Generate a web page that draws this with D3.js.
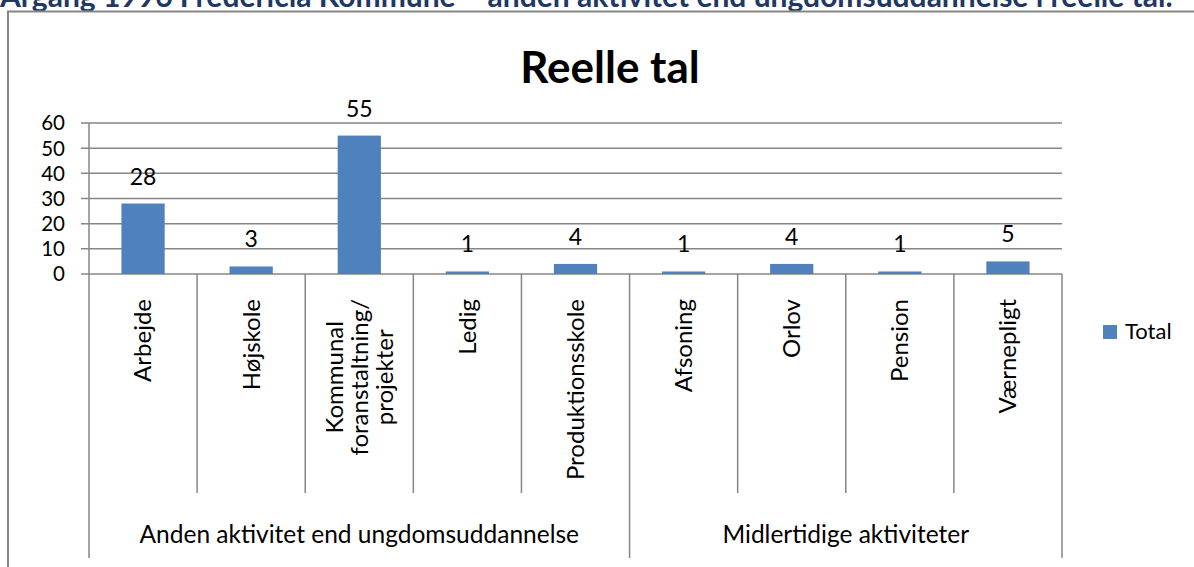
<!DOCTYPE html>
<html lang="da">
<head>
<meta charset="UTF-8">
<script src="https://d3js.org/d3.v7.min.js"></script>
<title>Reelle tal</title>
<style>
  body { margin: 0; background: #fff; }
  svg { display: block; font-family: Lato, "Open Sans", sans-serif; }
</style>
</head>
<body>
<svg width="1194" height="567"></svg>
<script>
  // data
  const categories = ['Arbejde', 'Højskole', 'Kommunal|foranstaltning/|projekter', 'Ledig', 'Produktionsskole',
                      'Afsoning', 'Orlov', 'Pension', 'Værnepligt'];
  const groups = ['Anden aktivitet end ungdomsuddannelse', 'Midlertidige aktiviteter'];
  const groupOf = [0, 0, 0, 0, 0, 1, 1, 1, 1];
  const totals = [28, 3, 55, 1, 4, 1, 4, 1, 5];
  const yTicks = [0, 10, 20, 30, 40, 50, 60];

  const svg = d3.select('svg');
  const grey = '#868686';
  const blue = '#4F81BD';
  const fs = 24;

  // heading above the frame (cut at the top in the original)
  svg.append('text')
    .attr('x', 0).attr('y', 7)
    .attr('fill', '#1F3864')
    .attr('font-weight', 'bold')
    .attr('font-size', 30)
    .text('Årgang 1996 Fredericia Kommune – anden aktivitet end ungdomsuddannelse i reelle tal.');

  // chart frame
  svg.append('path')
    .attr('d', 'M8,567 V11.5 H1194')
    .attr('fill', 'none').attr('stroke', grey).attr('stroke-width', 2);

  svg.append('text')
    .attr('x', 610).attr('y', 83)
    .attr('text-anchor', 'middle')
    .attr('font-weight', 'bold')
    .attr('font-size', 44)
    .text('Reelle tal');

  const left = 89, right = 1062;
  const x = d3.scaleBand().domain(d3.range(categories.length)).range([left, right]);
  const y = d3.scaleLinear().domain([0, 60]).range([274, 123]);

  // gridlines
  svg.append('g').selectAll('line').data(yTicks).join('line')
    .attr('x1', left - 8).attr('x2', right)
    .attr('y1', d => y(d)).attr('y2', d => y(d))
    .attr('stroke', grey).attr('stroke-width', 1.5);

  svg.append('line')
    .attr('x1', left).attr('x2', left).attr('y1', y(60)).attr('y2', y(0))
    .attr('stroke', grey).attr('stroke-width', 1.5);

  svg.append('g').selectAll('text').data(yTicks).join('text')
    .attr('x', 65).attr('y', d => y(d)).attr('dy', '0.36em')
    .attr('text-anchor', 'end').attr('font-size', 20.5)
    .text(d => d);

  // bars
  const bw = x.bandwidth() * 0.4;
  svg.append('g').selectAll('rect').data(totals).join('rect')
    .attr('x', (d, i) => x(i) + (x.bandwidth() - bw) / 2)
    .attr('y', d => y(d))
    .attr('width', bw)
    .attr('height', d => y(0) - y(d))
    .attr('fill', blue);

  svg.append('g').selectAll('text').data(totals).join('text')
    .attr('x', (d, i) => x(i) + x.bandwidth() / 2)
    .attr('y', d => y(d) - 19)
    .attr('text-anchor', 'middle').attr('font-size', 23)
    .text(d => d);

  // category separators below the axis
  const bounds = d3.range(categories.length + 1);
  svg.append('g').selectAll('line').data(bounds).join('line')
    .attr('x1', i => i === categories.length ? right : x(i))
    .attr('x2', i => i === categories.length ? right : x(i))
    .attr('y1', y(0))
    .attr('y2', i => (i === 0 || i === categories.length || groupOf[i] !== groupOf[i - 1]) ? 558 : 493)
    .attr('stroke', grey).attr('stroke-width', 1.5);

  // rotated category labels, block top-aligned at y=300, lines centred in the block
  const lineH = 25;
  categories.forEach((c, i) => {
    const lines = c.split('|');
    const cx = x(i) + x.bandwidth() / 2;
    const nodes = lines.map(t => svg.append('text')
      .attr('dy', '0.35em')
      .attr('text-anchor', 'middle')
      .attr('font-size', fs)
      .text(t));
    const maxW = d3.max(nodes, n => n.node().getComputedTextLength());
    nodes.forEach((n, j) => {
      const lx = cx + (j - (lines.length - 1) / 2) * lineH;
      n.attr('transform', `translate(${lx},${299 + maxW / 2}) rotate(-90)`);
    });
  });

  // group labels
  groups.forEach((g, k) => {
    const idx = d3.range(categories.length).filter(i => groupOf[i] === k);
    const x0 = x(idx[0]), x1 = x(idx[idx.length - 1]) + x.bandwidth();
    svg.append('text')
      .attr('x', (x0 + x1) / 2).attr('y', 543)
      .attr('text-anchor', 'middle').attr('font-size', 24.5)
      .text(g);
  });

  // legend
  svg.append('rect').attr('x', 1103).attr('y', 325).attr('width', 14).attr('height', 14).attr('fill', blue);
  svg.append('text').attr('x', 1125).attr('y', 339).attr('font-size', 22).text('Total');
</script>
</body>
</html>
